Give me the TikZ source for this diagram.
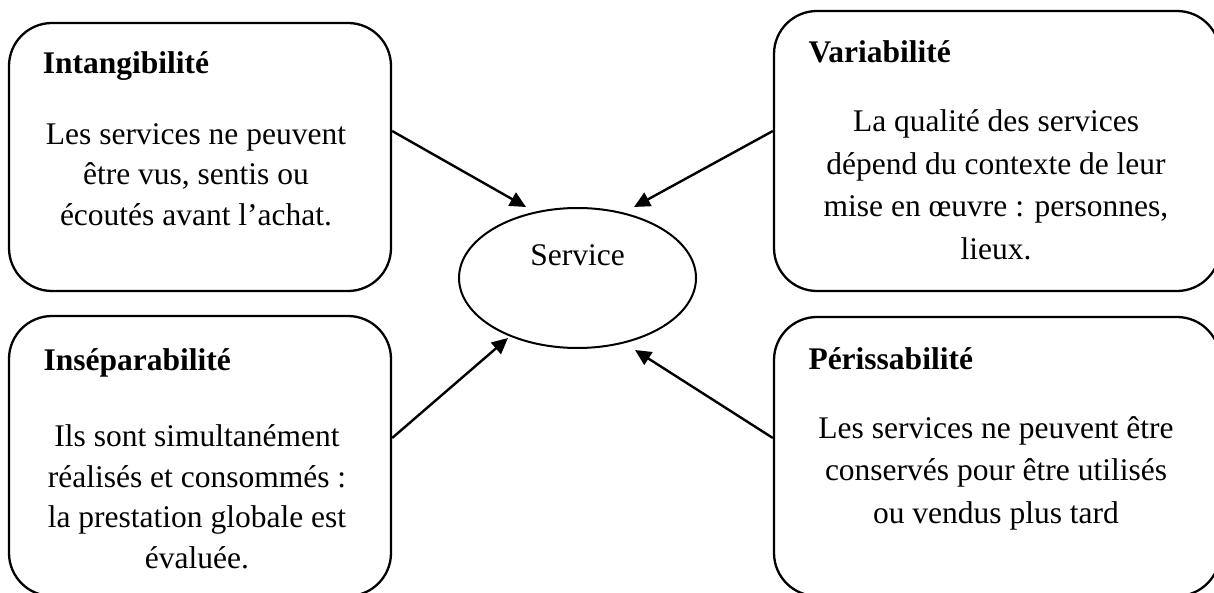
\documentclass[tikz,border=0pt]{standalone}
\usepackage{fontspec}
\setmainfont{Liberation Serif}
\usetikzlibrary{arrows.meta,shapes.geometric}

% paragraph of centred lines, first baseline at the node's base anchor
\newcommand{\bodytext}[2]{{\fontsize{31.5}{#1}\selectfont\begin{tabular}[t]{@{}c@{}}#2\end{tabular}}}

\tikzset{
  card/.style={draw, line width=2.3pt, rounded corners=43pt, inner sep=0pt},
  cardtitle/.style={anchor=base west, inner sep=0pt, font=\fontsize{31.5}{38}\selectfont\bfseries},
  cardbody/.style={anchor=base, inner sep=0pt},
  feed/.style={line width=2.4pt, -{Triangle[length=16pt,width=15pt]}},
}

\begin{document}
\begin{tikzpicture}[x=1pt, y=-1pt]
\useasboundingbox (0,0) rectangle (1214,593);

% the four characteristic cards
\node[card, minimum width=382pt, minimum height=268pt] (tl) at (200,157) {};
\node[card, minimum width=382pt, minimum height=280pt] (bl) at (200,456) {};
\node[card, minimum width=446pt, minimum height=280pt] (tr) at (997,151) {};
\node[card, minimum width=446pt, minimum height=279pt] (br) at (997,456.5) {};

% central ellipse
\node[ellipse, draw, line width=2pt, minimum width=237pt, minimum height=140pt,
      inner sep=0pt, text height=22pt, text depth=46pt,
      font=\fontsize{31.5}{38}\selectfont] (svc) at (577.5,278) {Service};

% titles
\node[cardtitle] (tlt) at (42.7,74) {Intangibilité};
\node[cardtitle] (blt) at (43.3,370) {Inséparabilité};
\node[cardtitle] (trt) at (808.3,63) {Variabilité};
\node[cardtitle] (brt) at (808.3,369) {Périssabilité};

% descriptions
\node[cardbody] (tlb) at (196,144.3) {\bodytext{40.5}{Les services ne peuvent\\être vus, sentis ou\\écoutés avant l’achat.}};
\node[cardbody] (blb) at (197,446.7) {\bodytext{40.5}{Ils sont simultanément\\réalisés et consommés :\\la prestation globale est\\évaluée.}};
\node[cardbody] (trb) at (996,131.7) {\bodytext{42.5}{La qualité des services\\dépend du contexte de leur\\mise en œuvre : personnes,\\lieux.}};
\node[cardbody] (brb) at (996,438.3) {\bodytext{42.5}{Les services ne peuvent être\\conservés pour être utilisés\\ou vendus plus tard}};

% arrows into the ellipse
\draw[feed] ([yshift=26pt]tl.east) -- ([xshift=-51.5pt]svc.north);
\draw[feed] ([yshift=20pt]tr.west) -- ([xshift=56.5pt]svc.north);
\draw[feed] ([yshift=18pt]bl.east) -- ([xshift=-69.5pt,yshift=11pt]svc.south);
\draw[feed] ([yshift=18.5pt]br.west) -- ([xshift=57.5pt,yshift=-1pt]svc.south);
\end{tikzpicture}
\end{document}
